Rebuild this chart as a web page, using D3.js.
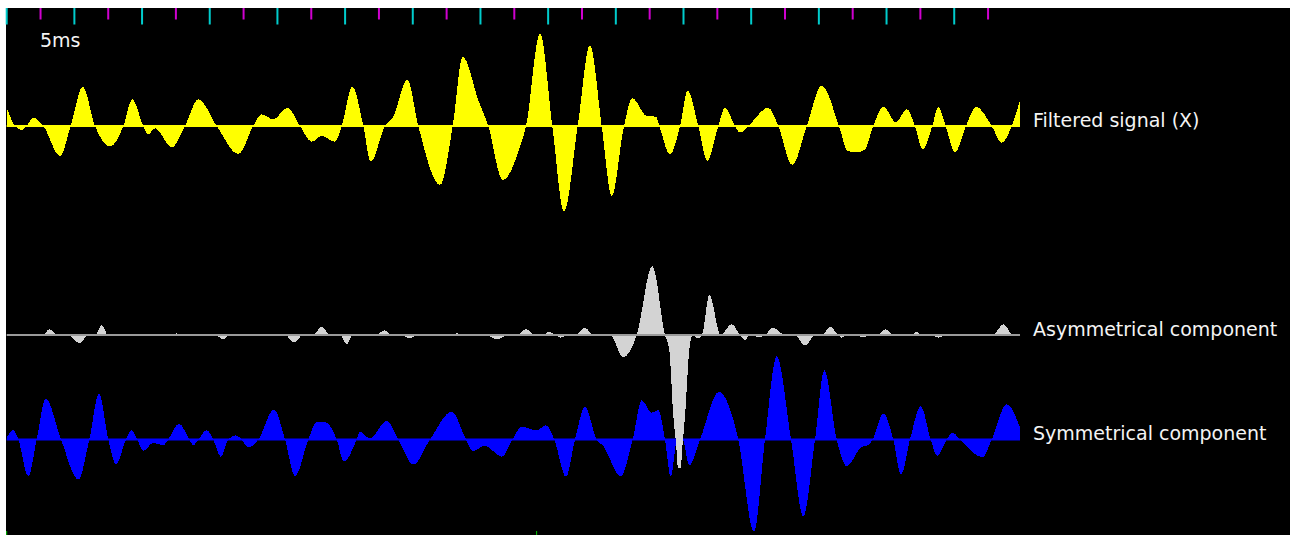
<!DOCTYPE html>
<html>
<head>
<meta charset="utf-8">
<script src="https://cdn.jsdelivr.net/npm/d3@7"></script>
<style>
  html, body { margin: 0; padding: 0; background: #fff; }
  svg { display: block; }
</style>
</head>
<body>
<div id="scope"></div>
<script>
// time of each grid tick (ms), cyan on even ms, magenta on odd
const tickMs = d3.range(0, 30);
// little green markers on the bottom edge (ms)
const markerMs = [0, 15.66];
const scaleLabel = "5ms";

// [time ms, amplitude] (peaks, troughs, crossings)
const filteredSignal = [
  [0, 1.87], [0.245, 0], [0.443, -0.4], [0.591, 0], [0.786, 0.83], [1.082, 0],
  [1.575, -3.0], [1.891, 0], [2.246, 3.93], [2.609, 0], [3.053, -2.07], [3.446, 0],
  [3.712, 2.67], [4.037, 0], [4.184, -0.83], [4.382, -0.23], [4.876, -2.13], [5.269, 0],
  [5.662, 2.67], [6.206, 0], [6.844, -2.8], [7.287, 0], [7.535, 1.17], [7.878, 0.67],
  [8.292, 1.83], [8.667, 0], [9.013, -1.57], [9.309, -1.0], [9.702, -1.57], [9.899, 0],
  [10.213, 3.93], [10.538, 0], [10.757, -3.57], [11.179, 0], [11.424, 0.93], [11.838, 4.67],
  [12.163, 0], [12.804, -5.9], [13.18, 0], [13.475, 6.93], [13.936, 2.6], [14.232, 0],
  [14.657, -5.4], [15.169, -2.07], [15.346, 0], [15.76, 9.27], [16.123, 0], [16.469, -8.57],
  [16.874, 0], [17.237, 8.1], [17.583, 0], [17.878, -7.0], [18.242, 0], [18.487, 2.77],
  [18.913, 1.0], [19.187, 0.93], [19.285, 0], [19.601, -2.83], [19.897, 0], [20.124, 3.53],
  [20.437, 0], [20.703, -3.47], [21.028, 0], [21.226, 1.83], [21.522, 0], [21.669, -0.67],
  [21.915, 0], [22.506, 1.83], [22.801, 0], [23.215, -3.9], [23.641, 0], [24.084, 4.03],
  [24.595, 0], [24.85, -2.5], [25.118, -2.63], [25.35, -2.4], [25.609, 0], [25.905, 1.93],
  [26.28, 0.37], [26.596, 1.7], [26.841, 0], [27.069, -2.33], [27.352, 0], [27.53, 1.93],
  [27.748, 0], [28.023, -2.63], [28.348, 0], [28.644, 1.93], [29.108, 0], [29.403, -1.67],
  [29.699, 0], [29.944, 2.6]
];

const asymComponent = [
  [0, 0], [1.064, 0], [1.259, 0.57], [1.525, 0], [1.811, 0], [2.166, -0.83], [2.402, 0],
  [2.609, 0], [2.807, 1.0], [2.993, 0], [4.885, 0], [5.024, 0.17], [5.18, 0],
  [6.155, 0], [6.401, -0.43], [6.599, 0], [8.224, 0], [8.49, -0.73], [8.756, 0],
  [9.052, 0], [9.309, 0.83], [9.554, 0], [9.849, 0], [10.047, -0.93], [10.233, 0],
  [10.883, 0], [11.179, 0.47], [11.386, 0], [11.622, 0], [11.918, -0.33], [12.154, 0],
  [13.1, 0], [13.316, 0.17], [13.543, 0], [14.134, 0], [14.48, -0.43], [14.814, 0],
  [15.08, 0], [15.346, 0.57], [15.612, 0], [15.848, 0], [16.034, 0.33], [16.203, 0],
  [16.38, -0.27], [16.557, 0], [16.794, 0], [17.089, 0.73], [17.326, 0], [17.828, 0],
  [18.221, -2.23], [18.617, 0], [19.078, 6.9], [19.453, 0], [19.58, -1.5], [19.699, -8.1],
  [19.778, -10.8], [19.838, -13.3], [19.911, -13.3], [19.976, -10.8], [20.044, -8.1],
  [20.172, -1.5], [20.272, 0], [20.408, -0.33], [20.547, 0], [20.763, 4.0], [21.099, 0],
  [21.424, 1.1], [21.669, 0], [21.817, -0.5], [21.965, 0], [22.24, -0.23], [22.408, 0],
  [22.653, 0.73], [23.0, 0], [23.295, 0], [23.591, -1.07], [23.887, 0], [24.094, 0],
  [24.33, 0.83], [24.566, 0], [24.675, -0.27], [24.803, 0], [25.068, 0], [25.314, -0.23],
  [25.571, 0], [25.719, 0], [25.955, 0.57], [26.191, 0], [26.25, -0.1], [26.4, 0],
  [26.596, -0.13], [26.752, 0], [26.891, 0.33], [27.047, 0], [27.283, 0], [27.53, -0.27],
  [27.757, 0], [29.146, 0], [29.451, 1.1], [29.738, 0], [29.944, 0]
];

const symComponent = [
  [0, 0.2], [0.195, 0.93], [0.343, 0], [0.638, -3.67], [0.887, 0], [1.152, 4.1],
  [1.605, 0], [2.116, -4.0], [2.441, 0], [2.728, 4.6], [3.002, 0], [3.23, -2.5],
  [3.525, 0], [3.694, 0.93], [3.859, 0], [4.037, -1.13], [4.332, -0.33], [4.628, -0.57],
  [4.775, 0], [5.092, 1.6], [5.396, 0], [5.514, -0.57], [5.662, 0], [5.91, 0.93],
  [6.105, 0], [6.324, -1.73], [6.548, 0], [6.767, 0.43], [6.944, 0], [7.139, -0.8],
  [7.435, 0], [7.899, 3.0], [8.224, 0], [8.52, -3.67], [8.913, 0], [9.15, 1.7],
  [9.309, 1.77], [9.45, 1.7], [9.752, 0], [9.967, -2.23], [10.343, 0], [10.44, 0.77],
  [10.736, 0.1], [11.229, 1.87], [11.572, 0], [12.015, -2.5], [12.509, 0], [13.15, 2.77],
  [13.573, 0], [13.771, -1.17], [14.134, -0.63], [14.628, -1.73], [14.947, 0], [15.218, 1.27],
  [15.662, 0.93], [15.936, 1.43], [16.182, 0], [16.528, -3.73], [16.794, 0], [17.089, 3.27],
  [17.435, 0], [17.63, -0.67], [18.144, -3.67], [18.499, 0], [18.765, 3.93], [19.06, 2.67],
  [19.255, 2.93], [19.453, 0], [19.622, -3.73], [19.808, 0], [19.897, 0.3], [19.986, 0],
  [20.172, -2.57], [20.488, 0], [21.05, 4.77], [21.619, 0], [22.083, -9.23], [22.408, 0],
  [22.754, 8.33], [23.177, 0], [23.54, -7.67], [23.887, 0], [24.161, 6.93], [24.528, 0],
  [24.823, -2.67], [25.266, -0.73], [25.461, -0.57], [25.591, 0], [25.905, 2.6], [26.2, 0],
  [26.428, -3.5], [26.693, 0], [27.01, 3.33], [27.305, 0], [27.5, -1.67], [27.778, 0],
  [27.955, 0.67], [28.171, 0], [28.842, -1.8], [29.108, 0], [29.551, 3.53], [29.944, 1.2]
];

const trackNames = ["Filtered signal (X)", "Asymmetrical component", "Symmetrical component"];

document.addEventListener("DOMContentLoaded", () => {
    const width = 1290, height = 535;
    const left = 6, top = 8;

    const tracks = [
        { name: trackNames[0], data: filteredSignal, base: 126, fill: "#ffff00", line: "#ffff00" },
        { name: trackNames[2], data: symComponent, base: 439.5, fill: "#0000ff", line: "#0000ff" },
        { name: trackNames[1], data: asymComponent, base: 335, fill: "#d3d3d3", line: "#9a9a9a" }
    ];

    const svg = d3.select("#scope").append("svg")
        .attr("width", width)
        .attr("height", height);

    // black scope screen, white frame left/top
    svg.append("rect")
        .attr("x", left).attr("y", top)
        .attr("width", width - left).attr("height", height - top)
        .attr("fill", "#000");

    const x = d3.scaleLinear().domain([0, 30]).range([6.7, 6.7 + 33.84 * 30]);

    // grid ticks along the top
    svg.selectAll(".tick")
        .data(tickMs)
        .enter().append("line")
        .attr("class", "tick")
        .attr("x1", d => x(d)).attr("x2", d => x(d))
        .attr("y1", top)
        .attr("y2", d => d % 2 === 0 ? top + 16.5 : top + 11.5)
        .style("stroke", d => d % 2 === 0 ? "#00cccc" : "#d000d0")
        .style("stroke-width", "2px");

    svg.selectAll(".marker")
        .data(markerMs)
        .enter().append("line")
        .attr("class", "marker")
        .attr("x1", d => x(d)).attr("x2", d => x(d))
        .attr("y1", height - 4).attr("y2", height)
        .style("stroke", "#00c800")
        .style("stroke-width", "1px");

    svg.append("text")
        .attr("x", 40).attr("y", 47)
        .style("font-family", "DejaVu Sans, Verdana, sans-serif")
        .style("font-size", "19px")
        .style("fill", "#f4f4f4")
        .text(scaleLabel);

    tracks.forEach(t => {
        const y = d3.scaleLinear().domain([-10, 10]).range([t.base + 100, t.base - 100]);

        const area = d3.area()
            .x(d => x(d[0]))
            .y0(y(0))
            .y1(d => y(d[1]))
            .curve(d3.curveMonotoneX);

        svg.append("path")
            .datum(t.data)
            .attr("d", area)
            .style("fill", t.fill)
            .style("shape-rendering", "crispEdges");

        svg.append("line")
            .attr("x1", x(0)).attr("x2", x(d3.max(t.data, d => d[0])))
            .attr("y1", y(0)).attr("y2", y(0))
            .style("stroke", t.line)
            .style("stroke-width", "2px");

        svg.append("text")
            .attr("x", 1033).attr("y", t.base + 0.5)
            .style("font-family", "DejaVu Sans, Verdana, sans-serif")
            .style("font-size", "19px")
            .style("fill", "#f4f4f4")
            .text(t.name);
    });
});
</script>
</body>
</html>
